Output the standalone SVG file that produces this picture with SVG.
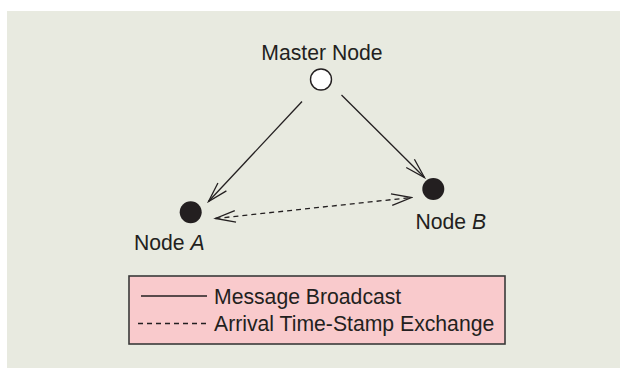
<svg xmlns="http://www.w3.org/2000/svg" width="620" height="368" viewBox="0 0 620 368">
  <style>
    .lbl { font-family: "Liberation Sans", Arial, sans-serif; font-size: 21.2px; fill: #231f20; }
    .ln { stroke: #231f20; stroke-width: 1.3; fill: none; }
    .dash { stroke-dasharray: 5 4; }
  </style>
  <defs>
    <marker id="arr" markerUnits="userSpaceOnUse" markerWidth="24" markerHeight="16" viewBox="-22 -8 24 16" refX="0" refY="0" orient="auto-start-reverse">
      <path d="M-20,-5.8 L0,0 L-20,5.8" fill="none" stroke="#231f20" stroke-width="1.3"/>
    </marker>
  </defs>
  <rect x="0" y="0" width="620" height="368" fill="#ffffff"/>
  <rect x="7" y="11" width="613" height="357" fill="#e8eae0"/>

  <g id="connectors">
    <line class="ln" x1="302" y1="101.5" x2="208.5" y2="201.5" marker-end="url(#arr)"/>
    <line class="ln" x1="341.5" y1="95" x2="424.5" y2="177.5" marker-end="url(#arr)"/>
    <line class="ln dash" x1="215.5" y1="218.5" x2="411.5" y2="197.5" marker-start="url(#arr)" marker-end="url(#arr)"/>
  </g>

  <g id="master">
    <circle cx="321" cy="79.5" r="10.5" fill="#ffffff" stroke="#231f20" stroke-width="1.4"/>
    <text class="lbl" x="322" y="60" text-anchor="middle">Master Node</text>
  </g>

  <g id="nodeA">
    <circle cx="190.7" cy="212.3" r="11" fill="#231f20"/>
    <text class="lbl" x="134" y="249.5">Node <tspan font-style="italic">A</tspan></text>
  </g>

  <g id="nodeB">
    <circle cx="433.3" cy="189" r="11" fill="#231f20"/>
    <text class="lbl" x="415.5" y="228.5">Node <tspan font-style="italic">B</tspan></text>
  </g>

  <g id="legend">
    <rect x="129" y="276" width="376" height="68" fill="#f9cacc" stroke="#3a3a3a" stroke-width="1.6"/>
    <line class="ln" x1="141" y1="296" x2="207" y2="296"/>
    <line class="ln dash" x1="138" y1="323.5" x2="207" y2="323.5"/>
    <text class="lbl" x="214" y="303.5">Message Broadcast</text>
    <text class="lbl" x="214" y="331">Arrival Time-Stamp Exchange</text>
  </g>
</svg>
